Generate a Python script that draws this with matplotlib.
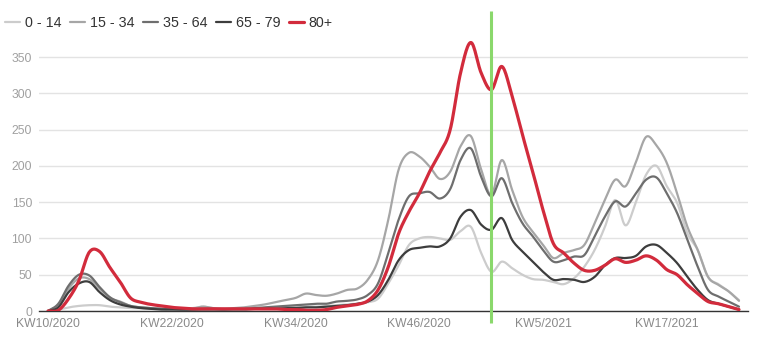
import numpy as np
import matplotlib
matplotlib.use("Agg")
import matplotlib.pyplot as plt

plt.rcParams['font.family'] = ['Liberation Sans', 'DejaVu Sans']

# calendar weeks KW10/2020 .. KW24/2021
weeks = [f"KW{w}/2020" for w in range(10, 54)] + [f"KW{w}/2021" for w in range(1, 25)]
marker_week = "KW53/2020"

age_0_14 = [0, 2, 5, 7, 8, 8, 6, 5, 4, 4,
            3, 3, 3, 3, 4, 6, 4, 3, 3, 3,
            4, 4, 5, 5, 6, 6, 6, 7, 8, 9,
            10, 12, 17, 38, 63, 91, 100, 102, 100, 98,
            110, 116, 80, 54, 68, 59, 50, 44, 43, 40,
            37, 45, 61, 84, 116, 153, 118, 150, 188, 200,
            172, 149, 107, 84, 47, 37, 27, 15]

age_15_34 = [0, 8, 31, 45, 44, 31, 18, 13, 7, 5,
             4, 3, 3, 2, 3, 6, 4, 3, 4, 5,
             7, 9, 12, 15, 18, 24, 22, 21, 24, 29,
             31, 43, 70, 126, 195, 218, 213, 199, 182, 192,
             227, 241, 195, 160, 208, 167, 130, 109, 91, 73,
             80, 84, 91, 121, 153, 181, 172, 205, 240, 228,
             204, 162, 116, 84, 47, 36, 27, 14]

age_35_64 = [0, 10, 35, 50, 49, 33, 19, 12, 7, 5,
             4, 3, 3, 2, 2, 3, 3, 2, 3, 3,
             4, 5, 6, 7, 8, 9, 10, 10, 13, 14,
             16, 22, 38, 80, 126, 158, 162, 164, 155, 168,
             208, 224, 185, 158, 183, 149, 121, 103, 84, 68,
             70, 75, 77, 103, 130, 151, 144, 162, 181, 184,
             162, 135, 98, 61, 29, 20, 13, 6]

age_65_79 = [0, 5, 26, 38, 40, 26, 15, 9, 6, 4,
             3, 2, 2, 2, 2, 2, 2, 2, 2, 2,
             3, 3, 3, 4, 4, 5, 5, 6, 7, 8,
             10, 13, 22, 43, 70, 84, 87, 89, 89, 100,
             130, 139, 119, 112, 128, 98, 82, 68, 54, 43,
             44, 43, 40, 47, 63, 73, 73, 76, 89, 91,
             80, 66, 47, 29, 15, 10, 6, 2]

age_80 = [0, 1, 17, 42, 81, 82, 60, 40, 18, 12,
          9, 7, 5, 4, 3, 3, 3, 3, 3, 3,
          3, 3, 3, 2, 2, 1, 1, 2, 5, 7,
          9, 14, 29, 61, 107, 137, 162, 192, 218, 250,
          328, 370, 328, 305, 337, 296, 243, 192, 139, 93,
          80, 66, 56, 56, 63, 72, 67, 70, 76, 70,
          57, 50, 36, 24, 13, 10, 6, 2]

series = [
    ("0 - 14", age_0_14, "#cccccc", 1.6),
    ("15 - 34", age_15_34, "#a6a6a6", 1.6),
    ("35 - 64", age_35_64, "#6e6e6e", 1.6),
    ("65 - 79", age_65_79, "#3d3d3d", 1.6),
    ("80+", age_80, "#d22b3c", 2.3),
]


def smooth_line(xs, ys, steps=16):
    # uniform catmull-rom through the weekly points
    xs = np.asarray(xs, float)
    ys = np.asarray(ys, float)
    n = len(xs)
    t = np.linspace(0, 1, steps)[:-1]
    h00 = 2 * t**3 - 3 * t**2 + 1
    h10 = t**3 - 2 * t**2 + t
    h01 = -2 * t**3 + 3 * t**2
    h11 = t**3 - t**2
    my = np.gradient(ys)
    mx = np.gradient(xs)
    px, py = [], []
    for i in range(n - 1):
        px.append(h00 * xs[i] + h10 * mx[i] + h01 * xs[i + 1] + h11 * mx[i + 1])
        py.append(h00 * ys[i] + h10 * my[i] + h01 * ys[i + 1] + h11 * my[i + 1])
    px.append([xs[-1]])
    py.append([ys[-1]])
    return np.concatenate(px), np.concatenate(py)


fig = plt.figure(figsize=(7.64, 3.47), dpi=100)
ax = fig.add_axes([39 / 764, 36 / 347, 709 / 764, 300 / 347])

x = np.arange(len(weeks))
ax.set_xlim(-0.873, len(weeks) - 1 + 0.873)
ax.set_ylim(0, 413.4)

handles = []
for label, vals, color, lw in series:
    cx, cy = smooth_line(x, vals)
    h, = ax.plot(cx, cy, color=color, lw=lw, label=label,
                 solid_capstyle='round', zorder=3)
    handles.append(h)

# vertical marker at turn of the year
mx = weeks.index(marker_week)
ax.plot([mx, mx], [-16.5, 413.4], color="#8ad86c", lw=2.2,
        clip_on=False, zorder=5, solid_capstyle='butt')

ax.set_yticks(range(0, 351, 50))
ax.set_xticks(x[::12])
ax.set_xticklabels(weeks[::12])
ax.tick_params(axis='both', length=0, labelsize=8.7)
ax.tick_params(axis='y', colors="#a0a0a0", pad=5)
ax.tick_params(axis='x', colors="#8a8a8a", pad=5)
ax.grid(axis='y', color="#e3e3e3", lw=1)
ax.set_axisbelow(True)
for side in ("top", "right", "left"):
    ax.spines[side].set_visible(False)
ax.spines["bottom"].set_color("#333333")
ax.spines["bottom"].set_linewidth(1.0)

leg = fig.legend(handles=handles, loc="center left",
                 bbox_to_anchor=(5 / 764, 1 - 23 / 347), ncol=5,
                 frameon=False, fontsize=10.3, handlelength=1.05,
                 handletextpad=0.32, columnspacing=0.62,
                 borderpad=0, borderaxespad=0)
for txt in leg.get_texts():
    txt.set_color("#333333")

fig.savefig("out.png", dpi=100)
